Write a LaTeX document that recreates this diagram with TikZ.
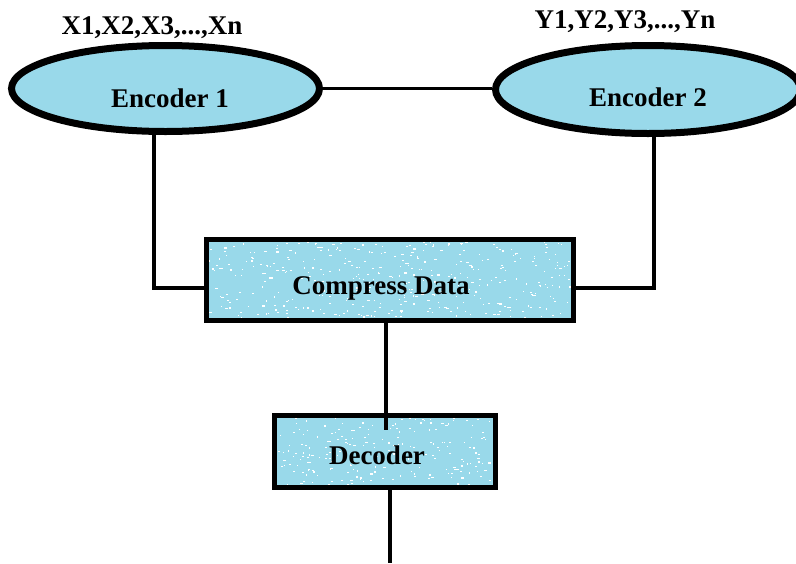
\documentclass[tikz,border=0pt]{standalone}
\usepackage{fontspec}
\setmainfont{Liberation Serif}
\usetikzlibrary{shapes.geometric,backgrounds,calc}
\definecolor{paintblue}{RGB}{153,217,234}
\pgfmathsetseed{7}
\tikzset{
  lbl/.style={font=\fontsize{27}{32}\selectfont\bfseries, inner sep=0pt},
  encshape/.style={ellipse, draw=black, line width=7pt, fill=paintblue, inner sep=0pt},
  speck/.style={path picture={
      \path (path picture bounding box.south west) coordinate (ppsw)
            (path picture bounding box.north east) coordinate (ppne);
      \foreach \k in {1,...,#1}{
        \fill[white] let \p1=(ppsw), \p2=(ppne) in
          ({\x1+rnd*(\x2-\x1)},{\y1+rnd*(\y2-\y1)}) rectangle ++({(1.2+4*rnd*rnd*rnd)*1pt},{1.2pt});
      }}},
  boxshape/.style={rectangle, draw=black, line width=5pt, fill=paintblue, inner sep=0pt, speck=#1},
  wire/.style={draw=black, line width=4pt},
}
\begin{document}
\begin{tikzpicture}[x=1pt,y=-1pt]
\useasboundingbox (0,0) rectangle (796,563);
% encoders
\node[encshape, minimum width=308pt, minimum height=86pt] (e1) at (165.5,88.5) {};
\node[encshape, minimum width=305pt, minimum height=88pt] (e2) at (648,89.5) {};
\node[lbl] (e1t) at (170,98) {Encoder 1};
\node[lbl] (e2t) at (648,97) {Encoder 2};
\node[lbl] (xin) at (152,28) {X1,X2,X3,...,Xn};
\node[lbl] (yin) at (625,22) {Y1,Y2,Y3,...,Yn};
% boxes
\node[boxshape=420, minimum width=367pt, minimum height=81pt] (cd) at (390,280) {};
\node[lbl] (cdt) at (381,288) {Compress Data};
\node[boxshape=220, minimum width=221pt, minimum height=72pt] (dec) at (385,451.5) {};
\node[lbl] (dect) at (377,455) {Decoder};
% junction coordinates
\coordinate (j1) at (154,288);
\coordinate (j2) at (654,288);
\coordinate (j3) at (386,430);
\coordinate (out) at (390,563);
\begin{scope}[on background layer]
  \draw[wire, line width=3.5pt] (e1.east) -- (e2.west |- e1.east);
  \draw[wire] (j1 |- e1) -- (j1) -- (cd.west |- j1);
  \draw[wire] (j2 |- e2) -- (j2) -- (cd.east |- j2);
\end{scope}
\draw[wire] (j3 |- cd.south) -- (j3);
\draw[wire] (out |- dec.south) -- (out);
\end{tikzpicture}
\end{document}
